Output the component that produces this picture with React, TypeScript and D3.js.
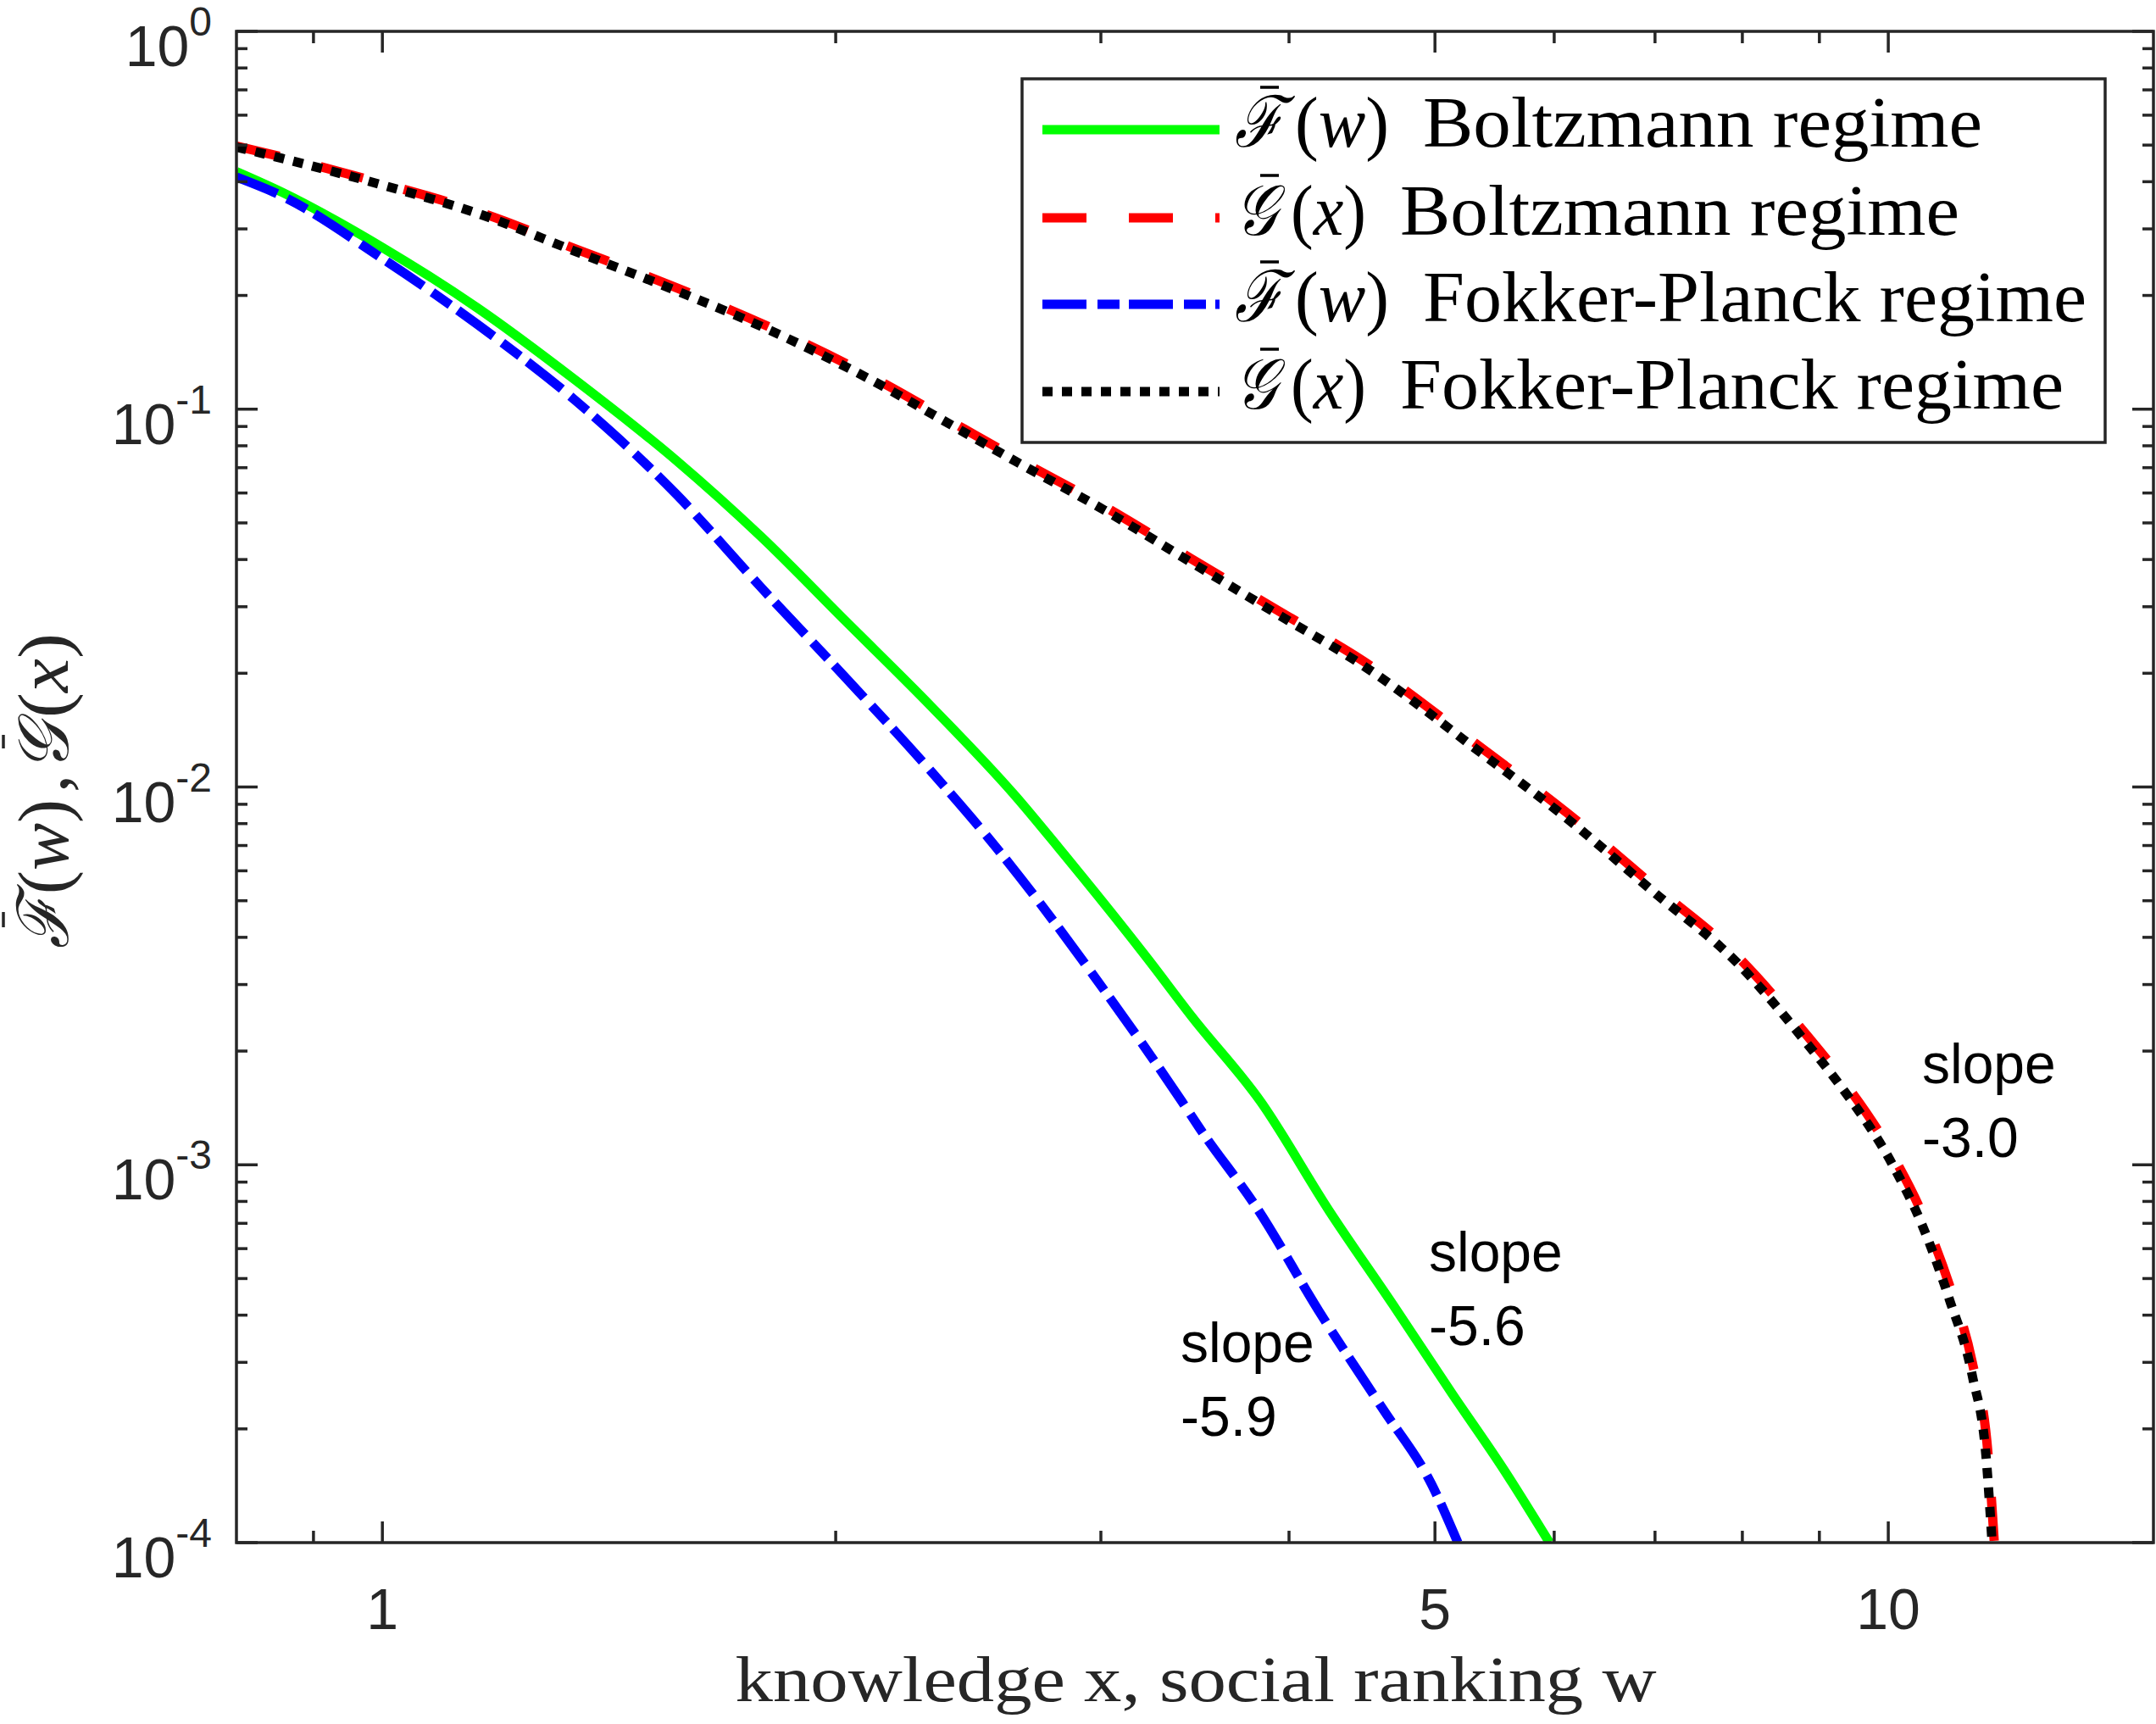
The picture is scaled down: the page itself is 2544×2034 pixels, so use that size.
import * as d3 from 'd3'

// knowledge x / social ranking w (log axis)
const fBoltzX = [0.8, 0.858, 1.0, 1.156, 1.342, 1.567, 1.784, 2.031, 2.313, 2.634, 2.811, 3.221, 3.451, 3.83, 4.252, 4.686, 5.136, 5.538, 5.957]
const fBoltzY = [0.4254, 0.375, 0.268, 0.1855, 0.1197, 0.0732, 0.046, 0.02746, 0.01638, 0.00944, 0.00692, 0.00352, 0.002455, 0.00147, 0.000757, 0.000428, 0.000247, 0.000159, 0.0001]

const gBoltzX = [0.8, 0.858, 1.0, 1.156, 1.342, 1.557, 1.807, 2.099, 2.436, 2.641, 3.015, 3.441, 3.928, 4.485, 5.378, 6.124, 6.975, 7.94, 8.848, 9.24, 10.08, 10.52, 10.98, 11.37, 11.65, 11.76]
const gBoltzY = [0.497, 0.465, 0.396, 0.334, 0.266, 0.212, 0.165, 0.1235, 0.0885, 0.0738, 0.0553, 0.0403, 0.0294, 0.0215, 0.01262, 0.00852, 0.0055, 0.00356, 0.00218, 0.00176, 0.00105, 0.00075, 0.00048, 0.0003, 0.00017, 0.0001]

const fFpX = [0.8, 0.858, 1.0, 1.156, 1.342, 1.567, 1.784, 2.031, 2.313, 2.556, 3.015, 3.396, 3.486, 3.818, 4.187, 4.613, 4.973, 5.178]
const fFpY = [0.4114, 0.3664, 0.2504, 0.1678, 0.1058, 0.0596, 0.03377, 0.01945, 0.01102, 0.00692, 0.0029, 0.00147, 0.001256, 0.000757, 0.00041, 0.000227, 0.000143, 0.0001]

const gFpX = [0.8, 0.858, 1.0, 1.156, 1.342, 1.557, 1.807, 2.099, 2.436, 2.641, 3.015, 3.441, 3.928, 4.485, 5.378, 6.124, 6.975, 7.94, 8.848, 9.24, 10.08, 10.52, 10.98, 11.37, 11.62, 11.72]
const gFpY = [0.494, 0.461, 0.392, 0.33, 0.262, 0.208, 0.162, 0.121, 0.0867, 0.0723, 0.0541, 0.0394, 0.0287, 0.0209, 0.01222, 0.00823, 0.0053, 0.00342, 0.002075, 0.00167, 0.00099, 0.0007, 0.00044, 0.000277, 0.000164, 0.0001]

const xMajor = [1, 5, 10]
const xMinor = [0.9, 2, 3, 4, 6, 7, 8, 9]
const yMajor = [1, 1e-1, 1e-2, 1e-3, 1e-4]
const yExp = ['0', '-1', '-2', '-3', '-4']

const series = [
  { label: 'Boltzmann regime', math: 'F', xs: fBoltzX, ys: fBoltzY, color: '#00ff00', dash: 'none' },
  { label: 'Boltzmann regime', math: 'G', xs: gBoltzX, ys: gBoltzY, color: '#ff0000', dash: '52 50' },
  { label: 'Fokker-Planck regime', math: 'F', xs: fFpX, ys: fFpY, color: '#0000ff', dash: '52 13 26 11' },
  { label: 'Fokker-Planck regime', math: 'G', xs: gFpX, ys: gFpY, color: '#000000', dash: '12 11' },
]

const notes = [
  { x: 2268, y: 1278, lines: ['slope', '-3.0'] },
  { x: 1686, y: 1500, lines: ['slope', '-5.6'] },
  { x: 1393, y: 1607, lines: ['slope', '-5.9'] },
]

const W = 2544
const H = 2034
const L = 279, R = 2541, T = 37, B = 1820
const AX = '#262626'
const sans = '"Liberation Sans", Arial, sans-serif'
const serif = '"Liberation Serif", "Times New Roman", serif'
const SCRIPT_F = 'ℱ'
const SCRIPT_G = '𝒢'

export default function App() {
  const x = d3.scaleLog().domain([0.8, 15]).range([L, R])
  const y = d3.scaleLog().domain([1e-4, 1]).range([B, T])
  const line = d3.line<[number, number]>()
    .x((d) => x(d[0]))
    .y((d) => y(d[1]))
    .curve(d3.curveMonotoneX)

  const yMinor: number[] = []
  for (let e = -4; e < 0; e++) {
    for (let k = 2; k <= 9; k++) yMinor.push(k * Math.pow(10, e))
  }

  const baseY = [173, 277, 379, 482]

  return (
    <svg width={W} height={H} style={{ position: 'absolute', left: 0, top: 0, display: 'block', background: '#fff' }}>
      <rect x={0} y={0} width={W} height={H} fill="#fff" />
      <defs>
        <clipPath id="plot">
          <rect x={L} y={T} width={R - L} height={B - T} />
        </clipPath>
      </defs>

      <g clipPath="url(#plot)">
        {series.map((s, i) => (
          <path
            key={i}
            d={line(s.xs.map((v, j) => [v, s.ys[j]] as [number, number])) ?? ''}
            fill="none"
            stroke={s.color}
            strokeWidth={11}
            strokeDasharray={s.dash}
            strokeLinejoin="round"
          />
        ))}
      </g>

      {/* ticks */}
      <g stroke={AX} strokeWidth={3.5}>
        {xMajor.map((v) => (
          <g key={'xm' + v}>
            <line x1={x(v)} x2={x(v)} y1={B} y2={B - 25} />
            <line x1={x(v)} x2={x(v)} y1={T} y2={T + 25} />
          </g>
        ))}
        {xMinor.map((v) => (
          <g key={'xn' + v}>
            <line x1={x(v)} x2={x(v)} y1={B} y2={B - 14} />
            <line x1={x(v)} x2={x(v)} y1={T} y2={T + 14} />
          </g>
        ))}
        {yMajor.map((v) => (
          <g key={'ym' + v}>
            <line x1={L} x2={L + 25} y1={y(v)} y2={y(v)} />
            <line x1={R} x2={R - 25} y1={y(v)} y2={y(v)} />
          </g>
        ))}
        {yMinor.map((v) => (
          <g key={'yn' + v}>
            <line x1={L} x2={L + 13} y1={y(v)} y2={y(v)} />
            <line x1={R} x2={R - 13} y1={y(v)} y2={y(v)} />
          </g>
        ))}
      </g>
      <rect x={L} y={T} width={R - L} height={B - T} fill="none" stroke={AX} strokeWidth={3.5} />

      {/* tick labels */}
      <g fontFamily={sans} fill={AX}>
        {xMajor.map((v) => (
          <text key={'xl' + v} x={x(v)} y={1922} fontSize={68} textAnchor="middle">{v}</text>
        ))}
        {yMajor.map((v, i) => (
          <text key={'yl' + v} x={250} y={y(v) + 41} fontSize={68} textAnchor="end">
            10<tspan fontSize={48} dy={-36}>{yExp[i]}</tspan>
          </text>
        ))}
      </g>

      {/* x label */}
      <text x={1411} y={2007} fontFamily={serif} fontSize={76} textAnchor="middle" fill={AX}
        textLength={1087} lengthAdjust="spacingAndGlyphs">knowledge x, social ranking w</text>

      {/* y label, drawn along the rotated baseline */}
      <g transform="translate(80,1119) rotate(-90)" fontFamily={serif} fontSize={84} fill={AX}>
        <text x={0} y={0} fontStyle="italic" textLength={61} lengthAdjust="spacingAndGlyphs">{SCRIPT_F}</text>
        <line x1={25} x2={43} y1={-76} y2={-76} stroke={AX} strokeWidth={3.5} />
        <text x={64} y={0} textLength={112} lengthAdjust="spacingAndGlyphs">
          (<tspan fontStyle="italic">w</tspan>)
        </text>
        <text x={184} y={0}>,</text>
        <text x={208} y={0} fontStyle="italic" textLength={58} lengthAdjust="spacingAndGlyphs">{SCRIPT_G}</text>
        <line x1={236} x2={252} y1={-76} y2={-76} stroke={AX} strokeWidth={3.5} />
        <text x={272} y={0} textLength={100} lengthAdjust="spacingAndGlyphs">
          (<tspan fontStyle="italic">x</tspan>)
        </text>
      </g>

      {/* annotations */}
      <g fontFamily={sans} fontSize={66} fill="#000">
        {notes.map((n, i) => (
          <text key={i} x={n.x} y={n.y}>
            {n.lines.map((t, j) => (
              <tspan key={j} x={n.x} dy={j === 0 ? 0 : 87}>{t}</tspan>
            ))}
          </text>
        ))}
      </g>

      {/* legend */}
      <g>
        <rect x={1206} y={93} width={1278} height={429} fill="#fff" stroke={AX} strokeWidth={3.5} />
        {series.map((s, i) => {
          const isF = s.math === 'F'
          const b = baseY[i]
          return (
            <g key={i}>
              <line x1={1230} x2={1439} y1={b - 20} y2={b - 20} stroke={s.color} strokeWidth={11}
                strokeDasharray={s.dash} />
              <g fontFamily={serif} fontSize={84} fill="#000">
                <text x={1457} y={b} fontStyle="italic" textLength={isF ? 57 : 50}
                  lengthAdjust="spacingAndGlyphs">{isF ? SCRIPT_F : SCRIPT_G}</text>
                <line x1={1487} x2={1509} y1={b - 70} y2={b - 70} stroke="#000" strokeWidth={3.5} />
                <text x={isF ? 1528 : 1523} y={b} textLength={isF ? 111 : 89} lengthAdjust="spacingAndGlyphs">
                  (<tspan fontStyle="italic">{isF ? 'w' : 'x'}</tspan>)
                </text>
                <text x={isF ? 1679 : 1652} y={b}
                  textLength={s.label.startsWith('B') ? 660 : 783} lengthAdjust="spacingAndGlyphs">{s.label}</text>
              </g>
            </g>
          )
        })}
      </g>
    </svg>
  )
}
